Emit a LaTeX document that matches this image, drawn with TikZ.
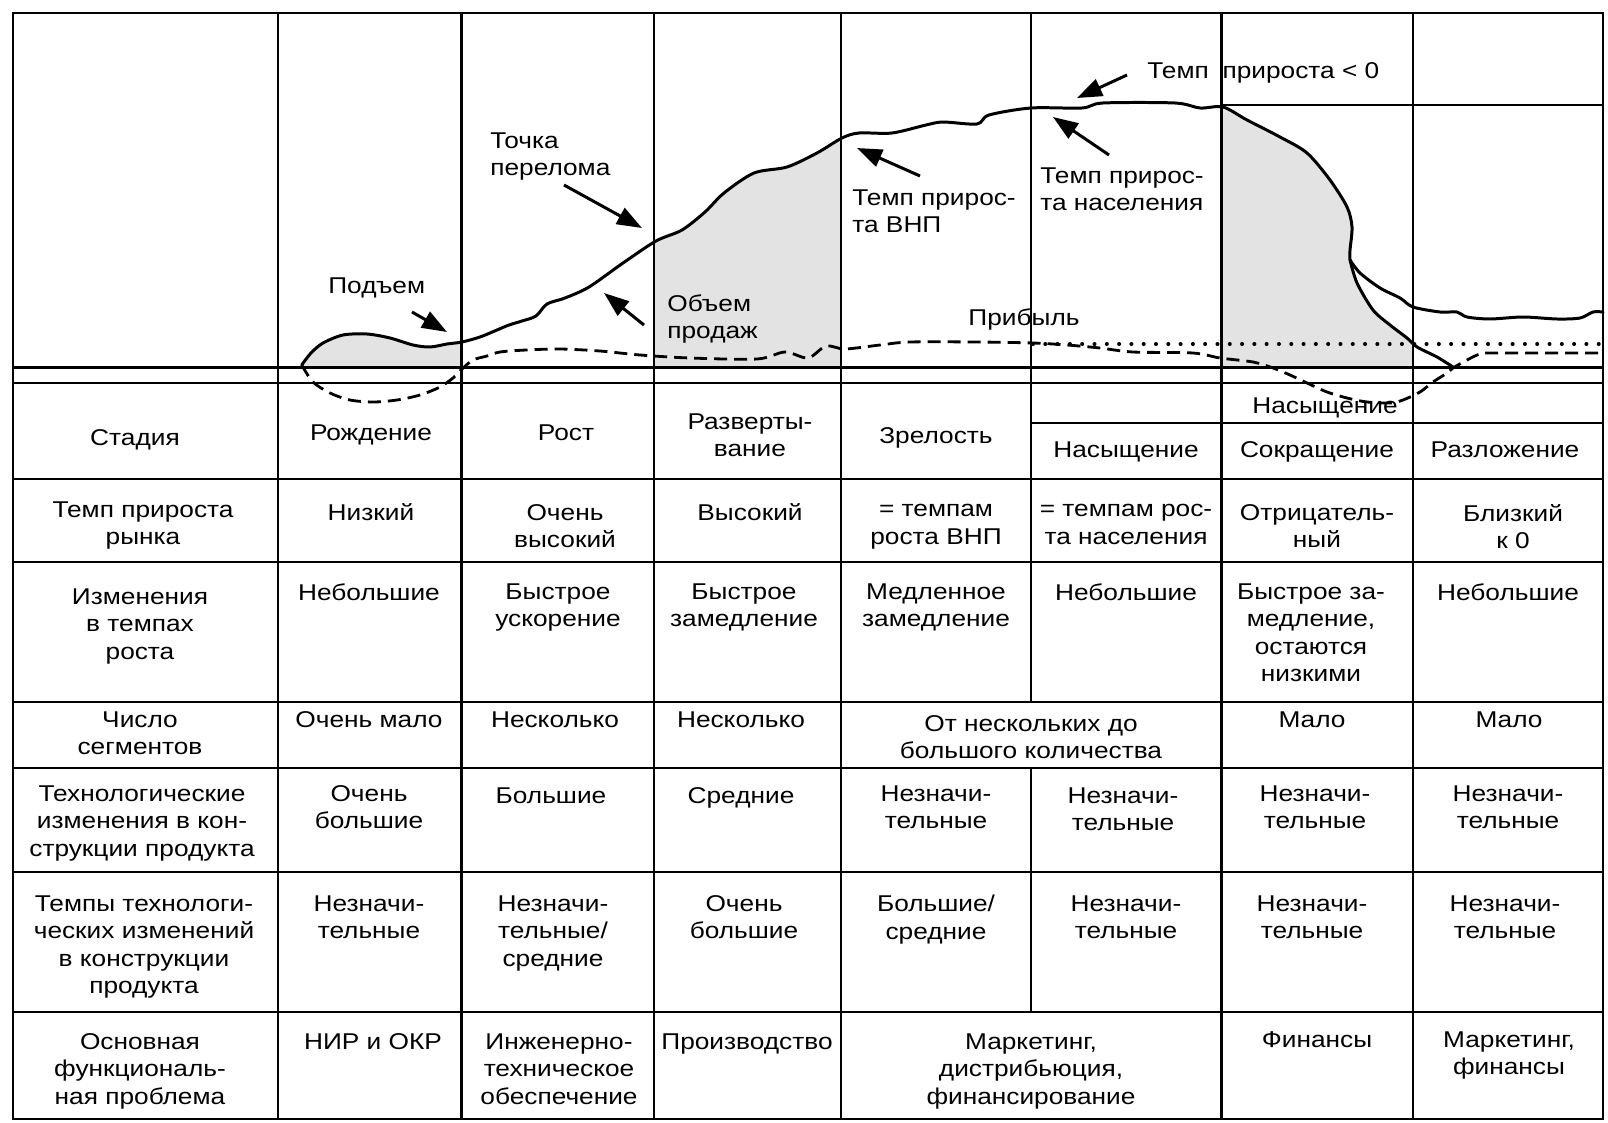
\documentclass[tikz,border=0pt]{standalone}
\usepackage{fontspec}
\setmainfont[FakeStretch=1.15]{Liberation Sans}
\usetikzlibrary{arrows.meta}
\newcommand{\cellfont}{\fontsize{13}{15.7}\selectfont}
\tikzset{
  tabline/.style={line width=1.6pt},
  cell/.style={anchor=north, align=center, inner sep=0pt, font=\cellfont},
  tag/.style={anchor=north west, align=left, inner sep=0pt, font=\cellfont},
  sales/.style={line width=1.7pt, line join=round, line cap=round},
  profit/.style={line width=1.6pt, dash pattern=on 0.26cm off 0.14cm},
  level/.style={line width=2.3pt, line cap=round, dash pattern=on 0pt off 0.246cm},
  pointer/.style={line width=1.7pt, -{Triangle[length=0.5cm,width=0.36cm]}},
  zone/.style={fill=black!11}
}

\begin{document}
\begin{tikzpicture}[x=0.02cm, y=-0.02cm]
  \useasboundingbox (0,0) rectangle (1608,1122);
  % Table bounds (pixel grid, y grows downwards)
  \def\xl{13} \def\xr{1603}
  \def\yt{13} \def\yb{1119}
  \def\base{367.5} \def\baseb{383}

  % Shaded parts under the sales curve
  \begin{scope}
    \clip (278,\yt) rectangle (461.5,\base) (654,\yt) rectangle (841,\base)
          (1221.5,\yt) rectangle (1413,\base);
    \fill[zone] plot[smooth, tension=0.5] coordinates {
      (301.7,365) (311,353) (323,343) (343,335) (367,334) (390,338) (413,345)
      (430,347) (447,344) (462,342) (480,337) (497,330) (509,325) (522,321)
      (536,316) (547,304) (565,298) (589,287) (623,263) (656,241) (682,230)
      (705,212) (724,193) (754,173) (787,167) (817,153) (842,138) (859,133)
      (892,133) (926,125) (943,122) (977,124) (989,115) (1031,108) (1082,108)
      (1103,103) (1175,103) (1200,108) (1223,107) (1247,120) (1280,137)
      (1307,153) (1330,180) (1347,207) (1352,227) (1350,250) (1350,260)
      (1357,283) (1373,310) (1390,325) (1407,338) (1417,347) (1437,357)
      (1453,367)}
      -- (1453,\base) -- (301.7,\base) -- cycle;
  \end{scope}

  % Table rules
  \draw[tabline] (\xl,\yt) rectangle (\xr,\yb);
  \foreach \x in {278,461.5,654,841,1221.5,1413}
    \draw[tabline] (\x,\yt) -- (\x,\yb);
  \draw[tabline] (1031,\yt) -- (1031,702);
  \draw[tabline] (1031,768) -- (1031,1012);
  \foreach \y in {\base,\baseb,479,562,702,768,872,1012}
    \draw[tabline] (\xl,\y) -- (\xr,\y);
  \draw[tabline] (1221.5,105) -- (\xr,105);
  \draw[tabline] (1031,423) -- (\xr,423);

  % Sales volume curve
  \draw[sales] plot[smooth, tension=0.5] coordinates {
    (301.7,365) (311,353) (323,343) (343,335) (367,334) (390,338) (413,345)
    (430,347) (447,344) (462,342) (480,337) (497,330) (509,325) (522,321)
    (536,316) (547,304) (565,298) (589,287) (623,263) (656,241) (682,230)
    (705,212) (724,193) (754,173) (787,167) (817,153) (842,138) (859,133)
    (892,133) (926,125) (943,122) (977,124) (989,115) (1031,108) (1082,108)
    (1103,103) (1175,103) (1200,108) (1223,107) (1247,120) (1280,137)
    (1307,153) (1330,180) (1347,207) (1352,227) (1350,250) (1350,260)};
  \draw[sales] plot[smooth, tension=0.5] coordinates {
    (1350,260) (1360,273) (1380,288) (1400,298) (1413,307) (1440,312)
    (1457,312) (1467,317) (1490,319) (1523,317) (1557,319) (1580,318)
    (1593,312) (1603,312)};
  \draw[sales] plot[smooth, tension=0.5] coordinates {
    (1350,260) (1357,283) (1373,310) (1390,325) (1407,338) (1417,347)
    (1437,357) (1453,367)};

  % Profit curve and zero growth level
  \draw[profit] plot[smooth, tension=0.5] coordinates {
    (301.7,365) (313,382) (330,393) (350,400) (373,402) (397,400) (420,395)
    (440,387) (453,378) (462,369) (473,360) (487,356) (500,352) (526,350)
    (560,349) (600,351) (640,355) (690,358) (757,359) (785,352) (808,358)
    (826,346) (845,349) (880,345) (910,342) (977,342) (1033,343) (1067,345)
    (1100,348) (1133,352) (1193,353) (1220,358) (1253,362) (1273,368)
    (1290,375) (1307,383) (1327,392) (1347,398) (1367,402) (1390,403)
    (1403,400) (1420,392) (1433,382) (1447,373) (1453,368) (1467,360)
    (1480,354) (1495,353) (1603,353)};
  \draw[level] (1033,344) -- (\xr,344);

  % Curve labels
  \node[tag] (rise) at (328,277) {Подъем};
  \node[tag] (turn) at (490,132) {Точка\\перелома};
  \node[tag] (volume) at (667,294) {Объем\\продаж};
  \node[tag] (gnp) at (852,189) {Темп прирос-\\та ВНП};
  \node[tag] (people) at (1040,167) {Темп прирос-\\та населения};
  \node[tag] (negative) at (1147,62) {Темп\hspace{0.6em}прироста < 0};
  \node[cell] (profitlbl) at (1024,308) {Прибыль};
  \node[cell] (saturation) at (1325,397) {Насыщение};

  % Pointers to the curve
  \coordinate (riseTail) at (412,312);     \coordinate (riseTip) at (447,332);
  \coordinate (turnTail) at (564,185);     \coordinate (turnTip) at (642,228);
  \coordinate (volumeTail) at (644,325);   \coordinate (volumeTip) at (604,293);
  \coordinate (gnpTail) at (920,176);      \coordinate (gnpTip) at (857,148);
  \coordinate (peopleTail) at (1109,155);  \coordinate (peopleTip) at (1053,117);
  \coordinate (negTail) at (1127,75);      \coordinate (negTip) at (1077,98);
  \draw[pointer] (riseTail) -- (riseTip);
  \draw[pointer] (turnTail) -- (turnTip);
  \draw[pointer] (volumeTail) -- (volumeTip);
  \draw[pointer] (gnpTail) -- (gnpTip);
  \draw[pointer] (peopleTail) -- (peopleTip);
  \draw[pointer] (negTail) -- (negTip);

  % Row: stage
  \node[cell] (s0) at (135,429) {Стадия};
  \node[cell] (s1) at (371,424) {Рождение};
  \node[cell] (s2) at (566,424) {Рост};
  \node[cell] (s3) at (750,413) {Разверты-\\вание};
  \node[cell] (s4) at (936,427) {Зрелость};
  \node[cell] (s5) at (1126,441) {Насыщение};
  \node[cell] (s6) at (1317,441) {Сокращение};
  \node[cell] (s7) at (1505,441) {Разложение};

  % Row: market growth rate
  \node[cell] (g0) at (143,501) {Темп прироста\\рынка};
  \node[cell] (g1) at (371,503) {Низкий};
  \node[cell] (g2) at (565,504) {Очень\\высокий};
  \node[cell] (g3) at (750,503) {Высокий};
  \node[cell] (g4) at (936,504) {= темпам\\роста ВНП};
  \node[cell] (g5) at (1126,504) {= темпам рос-\\та населения};
  \node[cell] (g6) at (1317,504) {Отрицатель-\\ный};
  \node[cell] (g7) at (1513,504) {Близкий\\к 0};

  % Row: changes in growth rates
  \node[cell] (c0) at (140,588) {Изменения\\в темпах\\роста};
  \node[cell] (c1) at (369,583) {Небольшие};
  \node[cell] (c2) at (558,583) {Быстрое\\ускорение};
  \node[cell] (c3) at (744,583) {Быстрое\\замедление};
  \node[cell] (c4) at (936,583) {Медленное\\замедление};
  \node[cell] (c5) at (1126,583) {Небольшие};
  \node[cell] (c6) at (1311,583) {Быстрое за-\\медление,\\остаются\\низкими};
  \node[cell] (c7) at (1508,583) {Небольшие};

  % Row: number of segments
  \node[cell] (n0) at (140,711) {Число\\сегментов};
  \node[cell] (n1) at (369,711) {Очень мало};
  \node[cell] (n2) at (555,711) {Несколько};
  \node[cell] (n3) at (741,711) {Несколько};
  \node[cell] (n4) at (1031,715) {От нескольких до\\большого количества};
  \node[cell] (n6) at (1312,711) {Мало};
  \node[cell] (n7) at (1509,711) {Мало};

  % Row: technological changes in design
  \node[cell] (t0) at (142,785) {Технологические\\изменения в кон-\\струкции продукта};
  \node[cell] (t1) at (369,785) {Очень\\большие};
  \node[cell] (t2) at (551,787) {Большие};
  \node[cell] (t3) at (741,787) {Средние};
  \node[cell] (t4) at (936,785) {Незначи-\\тельные};
  \node[cell] (t5) at (1123,787) {Незначи-\\тельные};
  \node[cell] (t6) at (1315,785) {Незначи-\\тельные};
  \node[cell] (t7) at (1508,785) {Незначи-\\тельные};

  % Row: pace of technological changes
  \node[cell] (p0) at (144,895) {Темпы технологи-\\ческих изменений\\в конструкции\\продукта};
  \node[cell] (p1) at (369,895) {Незначи-\\тельные};
  \node[cell] (p2) at (553,895) {Незначи-\\тельные/\\средние};
  \node[cell] (p3) at (744,895) {Очень\\большие};
  \node[cell] (p4) at (936,895) {Большие/\\средние};
  \node[cell] (p5) at (1126,895) {Незначи-\\тельные};
  \node[cell] (p6) at (1312,895) {Незначи-\\тельные};
  \node[cell] (p7) at (1505,895) {Незначи-\\тельные};

  % Row: main functional problem
  \node[cell] (f0) at (140,1033) {Основная\\функциональ-\\ная проблема};
  \node[cell] (f1) at (373,1033) {НИР и ОКР};
  \node[cell] (f2) at (559,1033) {Инженерно-\\техническое\\обеспечение};
  \node[cell] (f3) at (747,1033) {Производство};
  \node[cell] (f4) at (1031,1033) {Маркетинг,\\дистрибьюция,\\финансирование};
  \node[cell] (f6) at (1317,1031) {Финансы};
  \node[cell] (f7) at (1509,1031) {Маркетинг,\\финансы};
\end{tikzpicture}
\end{document}
